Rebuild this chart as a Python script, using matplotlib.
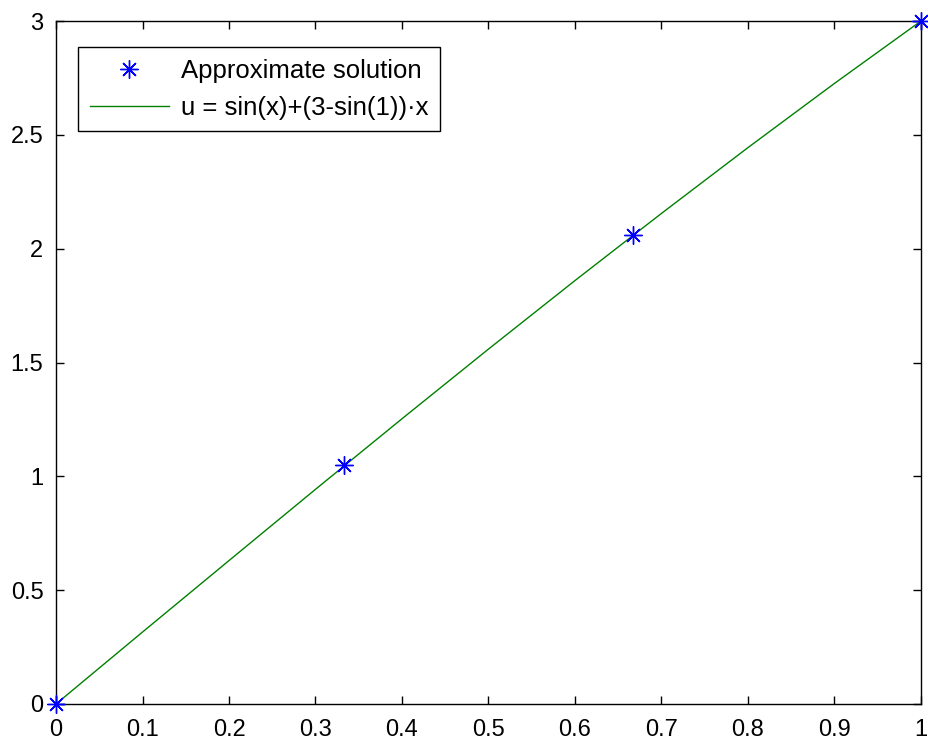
import numpy as np
import matplotlib
matplotlib.use('Agg')
from matplotlib import pyplot as plt

plt.rcParams['font.family'] = ['Liberation Sans', 'DejaVu Sans']

# Approximate solution nodes
x_approx = [0, 1/3, 2/3, 1]
u_approx = [0, 1.05, 2.06, 3]

# exact curve values
x_exact = [0, 0.1, 0.2, 0.3, 0.4, 0.5, 0.6, 0.7, 0.8, 0.9, 1.0]
u_exact = [0, 0.316, 0.630, 0.943, 1.253, 1.559, 1.860, 2.155, 2.444, 2.726, 3.0]

xticks = [0, 0.1, 0.2, 0.3, 0.4, 0.5, 0.6, 0.7, 0.8, 0.9, 1]
yticks = [0, 0.5, 1, 1.5, 2, 2.5, 3]
xticklabels = ['0', '0.1', '0.2', '0.3', '0.4', '0.5', '0.6', '0.7', '0.8', '0.9', '1']
yticklabels = ['0', '0.5', '1', '1.5', '2', '2.5', '3']

fig = plt.figure(figsize=(9.29, 7.4), dpi=100)
ax = fig.add_axes([56/929, 1 - 704/740, (921 - 56)/929, (704 - 21)/740])

# asterisk marker like matlab '*'
ax.plot(x_approx, u_approx, linestyle='none', marker=(8, 2, 0), color='blue',
        markersize=13, markeredgewidth=1, label='Approximate solution',
        clip_on=False, zorder=3)
ax.plot(x_exact, u_exact, color=(0, 0.5, 0), linewidth=1,
        label='u = sin(x)+(3-sin(1))\u00b7x')

ax.set_xlim(0, 1)
ax.set_ylim(0, 3)
ax.set_xticks(xticks)
ax.set_yticks(yticks)
ax.set_xticklabels(xticklabels)
ax.set_yticklabels(yticklabels)
ax.tick_params(direction='in', top=True, right=True, length=6, width=1,
               labelsize=17)
ax.tick_params(axis='x', pad=11)
ax.tick_params(axis='y', pad=9)
for s in ax.spines.values():
    s.set_linewidth(1)

leg = ax.legend(loc='upper left', fontsize=18.5, frameon=True, fancybox=False,
                edgecolor='black', framealpha=1, borderpad=0.45,
                handlelength=3.1, labelspacing=0.52, handletextpad=0.45,
                borderaxespad=0, bbox_to_anchor=(22/865, 1 - 26/683))
leg.get_frame().set_linewidth(1)

fig.savefig('out.png', dpi=100)
